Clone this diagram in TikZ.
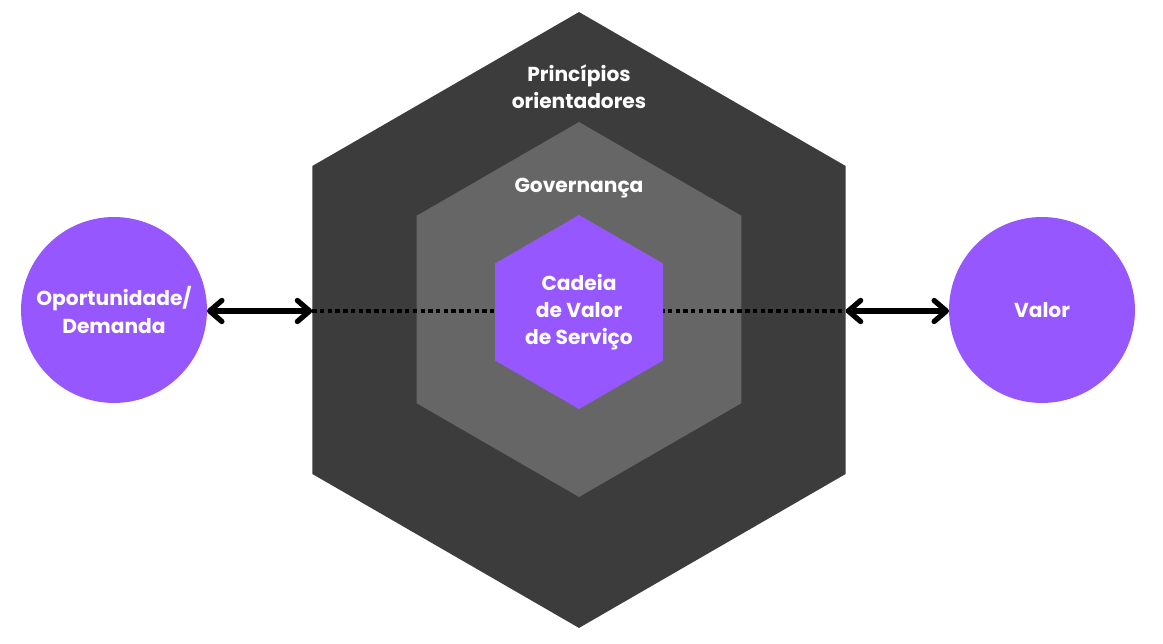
\documentclass[tikz,border=0pt]{standalone}
\usepackage{fontspec}
\setmainfont{Poppins}
\usetikzlibrary{shapes.geometric,arrows.meta}
\definecolor{hexdark}{HTML}{3C3C3C}
\definecolor{hexgray}{HTML}{666666}
\definecolor{roxo}{HTML}{9757FF}
\tikzset{
    hexa/.style={regular polygon, regular polygon sides=6, shape border rotate=30, inner sep=0pt, outer sep=0pt},
    bola/.style={circle, fill=roxo, minimum size=3.72cm, inner sep=0pt, outer sep=0pt},
    rotulo/.style={text=white, align=center, font=\bfseries\fontsize{11.5}{15.4}\selectfont},
    seta/.style={{Straight Barb[round,length=7pt,width=12pt]}-{Straight Barb[round,length=7pt,width=12pt]}, line width=3pt},
}
\begin{document}
\begin{tikzpicture}[x=0.02cm, y=-0.02cm]
    \useasboundingbox (0,0) rectangle (1163,644);
    \node[hexa, fill=hexdark, minimum size=12.32cm] (principios) at (579,320) {};
    \node[hexa, fill=hexgray, minimum size=7.5cm] (governanca) at (579,309.5) {};
    % linha pontilhada atras da cadeia
    \draw[line width=2.6pt, dash pattern=on 2.5pt off 1.9pt] (principios.west |- 0,311) -- (principios.east |- 0,311);
    \node[hexa, fill=roxo, minimum size=3.88cm] (cadeia) at (579,312) {};
    \node[rotulo] at (cadeia) {Cadeia\\de Valor\\de Serviço};
    \node[rotulo] at (579,87) {Princípios\\orientadores};
    \node[rotulo] at (579,188) {Governança};
    \node[bola] (demanda) at (114,310) {};
    \node[rotulo] at (demanda) {Oportunidade/\\Demanda};
    \node[bola] (valor) at (1042,310) {};
    \node[rotulo] at (valor) {Valor};
    \draw[seta] (demanda.east |- 0,311) -- (principios.west |- 0,311);
    \draw[seta] (principios.east |- 0,311) -- (valor.west |- 0,311);
\end{tikzpicture}
\end{document}
